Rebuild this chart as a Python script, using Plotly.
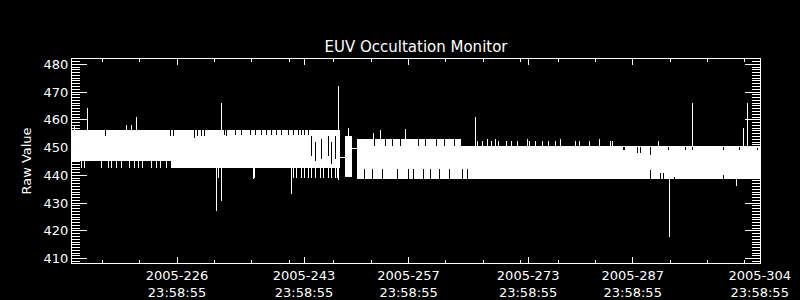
import plotly.graph_objects as go

# ---------------- data (day-of-year 2005, raw value) ----------------
# band of the dense raw-value trace: step breakpoints
band_day = [211.94, 225.3, 247.8, 248.5, 249.4, 250.1, 264.0, 304.04]
band_hi  = [456.3, 456.3, 446.6, 454.0, 449.8, 453.0, 450.3, 450.3]
band_lo  = [445.5, 442.8, 446.6, 439.5, 449.8, 438.8, 438.8, 438.8]

# isolated spikes (day, from value, to value)
spike_day  = [213.95, 219.17, 219.93, 220.51, 231.89, 247.55, 248.89, 256.65, 265.89,
              295.07, 301.77, 302.30, 212.21,
              231.22, 231.89, 236.17, 241.26, 291.86, 300.83, 247.55]
spike_from = [456.3, 456.3, 456.3, 456.3, 456.3, 456.3, 454.0, 453.0, 450.3,
              450.2, 450.2, 450.2, 456.3,
              442.8, 442.8, 442.8, 442.8, 438.8, 438.8, 446.0]
spike_to   = [464.4, 458.1, 458.1, 461.0, 466.2, 472.3, 457.2, 456.6, 461.0,
              466.2, 457.0, 466.2, 458.0,
              427.0, 430.9, 438.7, 433.2, 417.9, 436.0, 438.3]

# short excursions just outside the band edges (white)
fringe_day = [213.24, 213.59, 215.92, 216.80, 217.25, 217.92, 218.59, 219.61, 220.37,
              220.81, 221.40, 222.61, 223.28, 223.72, 224.62,
              231.52, 236.34, 241.56, 242.02, 242.69, 243.13, 243.57, 244.03, 244.47,
              245.14, 245.58, 246.25, 246.71, 247.15, 247.51,
              252.3, 253.2, 266.16, 266.83, 267.50, 268.03, 268.57, 269.10, 270.17,
              270.84, 271.51, 272.85, 273.25, 274.05, 274.99, 275.79, 276.60, 277.27,
              279.28, 279.94, 281.28, 282.62, 283.96, 284.23, 290.39]
fringe_from = [445.5] * 15 + [442.8] * 15 + [453.0] * 2 + [450.3] * 21 + [450.2] * 2
fringe_to   = [442.8] * 15 + [439.0] * 15 + [455.2, 456.3] + \
              [452.2, 452.2, 453.0, 452.2, 453.0, 452.2, 452.2, 452.2, 452.2, 453.0,
               452.2, 452.2, 452.2, 452.2, 452.2, 453.0, 452.2, 452.2, 452.2, 453.0,
               452.2] + [452.2, 452.2]

# gaps inside the band (drawn in background colour)
gap_day  = [216.49, 225.19, 225.59, 228.31, 228.77, 229.21, 229.74, 232.60,
            232.42, 233.76, 234.66, 235.77, 236.44, 237.33, 238.00, 238.67, 239.34,
            240.01, 240.90, 241.56, 242.23, 242.69, 243.13, 243.57,
            244.03, 244.47, 245.37, 246.25, 246.71, 247.15,
            252.50, 253.84, 254.78, 255.85, 258.26, 259.20, 260.80, 261.87, 263.21,
            251.03, 252.23, 253.44, 255.45, 257.05, 257.59, 258.93, 259.87, 261.07,
            262.41, 264.15, 264.95,
            285.70, 285.84, 287.58, 287.98, 289.32, 291.73, 294.00, 294.94, 299.22,
            301.23, 303.64,
            289.32, 290.66, 291.06, 292.53, 299.09]
gap_from = [456.3] * 8 + [456.3] * 16 + [454.0, 452.0, 453.0, 454.0, 452.0, 454.0] + \
           [453.0] * 9 + [438.8] * 12 + [450.2] * 11 + [438.8] * 5
gap_to   = [454.1, 454.1, 454.1, 453.4, 454.1, 454.1, 454.1, 454.1] + [454.5] * 16 + \
           [447.0, 445.0, 446.0, 447.0, 444.0, 446.0] + [450.6] * 9 + [442.4] * 12 + \
           [449.3, 449.3, 448.2, 448.2, 447.3, 449.3, 449.3, 449.3, 449.3, 449.3, 449.3] + \
           [441.9, 441.0, 441.0, 439.5, 440.0]

tick_days = [226, 243, 257, 273, 287, 304]
tick_text = ["2005-226<br>23:58:55", "2005-243<br>23:58:55", "2005-257<br>23:58:55",
             "2005-273<br>23:58:55", "2005-287<br>23:58:55", "2005-304<br>23:58:55"]
minor_days = [216, 221, 231, 236, 241, 247, 252, 262, 267, 272, 277, 282, 292, 297, 302]
y_ticks = [410, 420, 430, 440, 450, 460, 470, 480]


def segs(xs, y0s, y1s):
    X, Y = [], []
    for x, a, b in zip(xs, y0s, y1s):
        X += [x, x, None]
        Y += [a, b, None]
    return X, Y


FG = "white"
BG = "black"
FONT = "DejaVu Sans"

fig = go.Figure()
fig.add_trace(go.Scatter(x=band_day, y=band_lo, mode="lines", line=dict(color=FG, width=1, shape="hv"),
                         hoverinfo="skip", showlegend=False))
fig.add_trace(go.Scatter(x=band_day, y=band_hi, mode="lines", line=dict(color=FG, width=1, shape="hv"),
                         fill="tonexty", fillcolor=FG, hoverinfo="skip", showlegend=False))
gx, gy = segs(gap_day, gap_from, gap_to)
fig.add_trace(go.Scatter(x=gx, y=gy, mode="lines", line=dict(color=BG, width=1),
                         hoverinfo="skip", showlegend=False))
fx, fy = segs(fringe_day, fringe_from, fringe_to)
fig.add_trace(go.Scatter(x=fx, y=fy, mode="lines", line=dict(color=FG, width=1),
                         hoverinfo="skip", showlegend=False))
sx, sy = segs(spike_day, spike_from, spike_to)
fig.add_trace(go.Scatter(x=sx, y=sy, mode="lines", line=dict(color=FG, width=1),
                         hoverinfo="skip", showlegend=False))

fig.update_layout(
    width=800, height=300,
    margin=dict(l=72, r=40, t=59, b=37),
    paper_bgcolor=BG, plot_bgcolor=BG,
    font=dict(family=FONT, color=FG, size=13),
    title=dict(text="EUV Occultation Monitor", x=0.52, xanchor="center",
               y=1 - 47 / 300, yanchor="middle", yref="container",
               font=dict(family=FONT, size=15, color=FG)),
    xaxis=dict(range=[211.94, 304.04], tickmode="array", tickvals=tick_days, ticktext=tick_text,
               ticks="inside", ticklen=6, tickcolor=FG, tickwidth=1, automargin=False,
               showline=True, linecolor=FG, linewidth=1, mirror="allticks",
               showgrid=False, zeroline=False,
               tickfont=dict(family=FONT, size=13, color=FG),
               minor=dict(tickmode="array", tickvals=minor_days, ticks="inside", ticklen=3,
                          tickcolor=FG, tickwidth=1, showgrid=False)),
    yaxis=dict(range=[408.45, 481.9], tickmode="array", tickvals=y_ticks,
               ticks="inside", ticklen=15, tickcolor=FG, tickwidth=1, automargin=False,
               showline=True, linecolor=FG, linewidth=1, mirror="allticks",
               showgrid=False, zeroline=False,
               tickfont=dict(family=FONT, size=13, color=FG),
               title=dict(text="Raw Value", standoff=9, font=dict(family=FONT, size=13, color=FG)),
               minor=dict(dtick=1, tick0=410, ticks="inside", ticklen=8,
                          tickcolor=FG, tickwidth=1, showgrid=False)),
)

crisp = ("document.querySelectorAll('.scatterlayer path, .xtick, .ytick, .xaxislayer-above path, "
         ".yaxislayer-above path, .crisp').forEach(function(p){p.style.shapeRendering='crispEdges';});")
fig.write_html("out.html", post_script=crisp)
